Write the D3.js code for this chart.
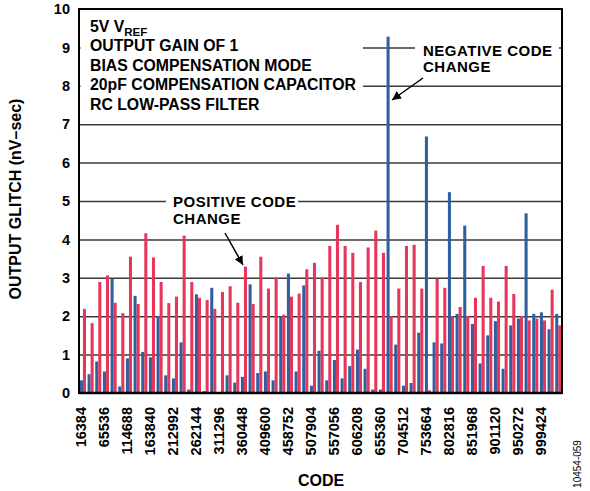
<!DOCTYPE html>
<html>
<head>
<meta charset="utf-8">
<script src="https://cdn.jsdelivr.net/npm/d3@7"></script>
<style>
  html, body { margin: 0; padding: 0; background: #fff; }
  svg { display: block; }
  text { font-family: "Liberation Sans", Arial, Helvetica, sans-serif; font-weight: bold; fill: #000; }
</style>
</head>
<body>
<script>
// ---- DATA ----
const codes = [16384,32768,49152,65536,81920,98304,114688,131072,147456,163840,180224,196608,212992,229376,245760,262144,278528,294912,311296,327680,344064,360448,376832,393216,409600,425984,442368,458752,475136,491520,507904,524288,540672,557056,573440,589824,606208,622592,638976,655360,671744,688128,704512,720896,737280,753664,770048,786432,802816,819200,835584,851968,868352,884736,901120,917504,933888,950272,966656,983040,999424,1015808,1032192];
const negativeGlitch = [0.33,0.49,0.82,0.56,2.97,0.17,0.90,2.53,1.07,0.93,2.00,0.46,0.38,1.32,0.09,2.57,0.05,2.74,0.02,0.46,0.27,
  0.42,2.83,0.52,0.56,0.33,2.00,3.11,0.56,2.80,0.19,1.10,0.33,0.86,0.38,0.70,1.13,0.63,0.09,0.09,
  9.28,1.26,0.19,0.26,1.57,6.68,1.32,1.29,5.23,2.06,4.36,1.80,0.77,1.50,1.87,0.63,1.76,1.94,4.68,2.06,2.10,1.66,2.06];
const positiveGlitch = [2.19,1.82,2.89,3.06,2.35,2.08,3.55,2.32,4.16,3.53,2.89,2.34,2.51,4.10,2.89,2.48,2.42,2.19,2.63,2.78,2.35,
  3.29,2.32,3.55,2.72,3.01,2.04,2.51,2.59,3.22,3.39,3.01,3.83,4.38,3.83,3.65,2.89,3.79,4.23,3.65,
  2.00,2.72,3.83,3.86,2.72,0.07,2.98,2.74,2.00,2.24,2.00,2.48,3.31,2.48,2.38,3.31,2.58,2.00,1.89,1.94,1.89,2.69,1.76];
const xTickLabels = [16384,65536,114688,163840,212992,262144,311296,360448,409600,458752,507904,557056,606208,655360,704512,753664,802816,851968,901120,950272,999424];
const yTicks = [0,1,2,3,4,5,6,7,8,9,10];
const conditions = ["OUTPUT GAIN OF 1","BIAS COMPENSATION MODE","20pF COMPENSATION CAPACITOR","RC LOW-PASS FILTER"];
const series = ["neg","pos"];
const colors = { neg: "#2f5f9c", pos: "#e6365a" };

// ---- CHART ----
(function () {
const W = 590, H = 491;
const pL = 79, pR = 562, pT = 9, pB = 393;

const svg = d3.select("body").append("svg").attr("width", W).attr("height", H);
svg.append("rect").attr("width", W).attr("height", H).attr("fill", "#fff");

const x = d3.scaleBand().domain(codes).range([pL, pR]).padding(0);
const xs = d3.scaleBand().domain(series).range([0.9, 7.0]).padding(0);
const y = d3.scaleLinear().domain([0, 10]).range([pB, pT]);

// grid lines
svg.append("g")
  .attr("transform", `translate(${pL},0)`)
  .call(d3.axisLeft(y).tickValues(yTicks.filter(v => v > 0 && v < 10)).tickSize(-(pR - pL)).tickFormat(""))
  .call(g => g.select(".domain").remove())
  .call(g => g.selectAll("line").attr("stroke", "#3a3a3a").attr("stroke-width", 1.5));

// bars
const rows = codes.map((c, i) => ({ code: c, neg: negativeGlitch[i], pos: positiveGlitch[i] }));
const grp = svg.append("g").selectAll("g").data(rows).join("g")
  .attr("transform", d => `translate(${x(d.code)},0)`);
grp.selectAll("rect").data(d => series.map(s => ({ s, v: d[s] }))).join("rect")
  .attr("x", d => xs(d.s))
  .attr("width", xs.bandwidth())
  .attr("y", d => y(d.v))
  .attr("height", d => y(0) - y(d.v))
  .attr("fill", d => colors[d.s]);

// frame
svg.append("rect").attr("x", pL).attr("y", pT).attr("width", pR - pL).attr("height", pB - pT)
  .attr("fill", "none").attr("stroke", "#000").attr("stroke-width", 2);
svg.append("line").attr("x1", pL).attr("x2", pR).attr("y1", pB).attr("y2", pB)
  .attr("stroke", "#000").attr("stroke-width", 2.5);

// y axis labels
svg.append("g")
  .attr("transform", `translate(${pL},0)`)
  .call(d3.axisLeft(y).tickValues(yTicks).tickSize(0).tickPadding(9).tickFormat(d3.format("d")))
  .call(g => g.select(".domain").remove())
  .call(g => g.selectAll("text").style("font-size", "14.5px").style("font-weight", "bold")
    .style("font-family", '"Liberation Sans", Arial, sans-serif').attr("fill", "#000"));

// x axis labels
svg.append("g")
  .attr("transform", `translate(${-2.0},${pB})`)
  .call(d3.axisBottom(x).tickValues(xTickLabels).tickSize(0).tickFormat(d3.format("d")))
  .call(g => g.select(".domain").remove())
  .call(g => g.selectAll("text")
    .style("font-size", "14.5px").style("font-weight", "bold")
    .style("font-family", '"Liberation Sans", Arial, sans-serif').attr("fill", "#000")
    .attr("text-anchor", "end")
    .attr("transform", "rotate(-90)")
    .attr("x", -14).attr("y", 0).attr("dy", "0.36em"));

// axis titles
svg.append("text").attr("transform", "translate(21,199) rotate(-90)")
  .attr("text-anchor", "middle").style("font-size", "16px").text("OUTPUT GLITCH (nV–sec)");
svg.append("text").attr("x", 321).attr("y", 486).attr("text-anchor", "middle")
  .style("font-size", "16px").text("CODE");
svg.append("text").attr("transform", "translate(581,464) rotate(-90)")
  .attr("text-anchor", "middle").style("font-size", "10px").style("font-weight", "normal").text("10454-059");

// conditions box
svg.append("rect").attr("x", pL + 1.5).attr("y", 12).attr("width", 363 - pL - 1.5).attr("height", 103).attr("fill", "#fff");
const t0 = svg.append("text").attr("x", 90).attr("y", 32).style("font-size", "15.8px");
t0.append("tspan").text("5V V");
t0.append("tspan").attr("dy", 4).style("font-size", "11.5px").text("REF");
conditions.forEach((c, i) => {
  svg.append("text").attr("x", 90).attr("y", 51 + i * 19.5).style("font-size", "15.8px").text(c);
});

// annotations
const defs = svg.append("defs");
defs.append("marker").attr("id", "ah").attr("viewBox", "0 0 10 10").attr("refX", 10).attr("refY", 5)
  .attr("markerWidth", 9).attr("markerHeight", 9).attr("markerUnits", "userSpaceOnUse").attr("orient", "auto")
  .append("path").attr("d", "M0,0 L10,5 L0,10 Z").attr("fill", "#000");

function label(xp, yp, txt) {
  svg.append("text").attr("x", xp).attr("y", yp)
    .style("font-size", "15px").style("letter-spacing", "0.5px").text(txt);
}

svg.append("rect").attr("x", 415).attr("y", 38).attr("width", 144).attr("height", 38).attr("fill", "#fff");
label(423, 55.5, "NEGATIVE CODE");
label(423, 72.3, "CHANGE");
svg.append("line").attr("x1", 423).attr("y1", 78).attr("x2", 392).attr("y2", 100)
  .attr("stroke", "#000").attr("stroke-width", 1.5).attr("marker-end", "url(#ah)");

svg.append("rect").attr("x", 166).attr("y", 190).attr("width", 132).attr("height", 38).attr("fill", "#fff");
label(173, 207, "POSITIVE CODE");
label(173, 223.8, "CHANGE");
svg.append("line").attr("x1", 225).attr("y1", 233).attr("x2", 243).attr("y2", 265)
  .attr("stroke", "#000").attr("stroke-width", 1.5).attr("marker-end", "url(#ah)");
})();
</script>
</body>
</html>
